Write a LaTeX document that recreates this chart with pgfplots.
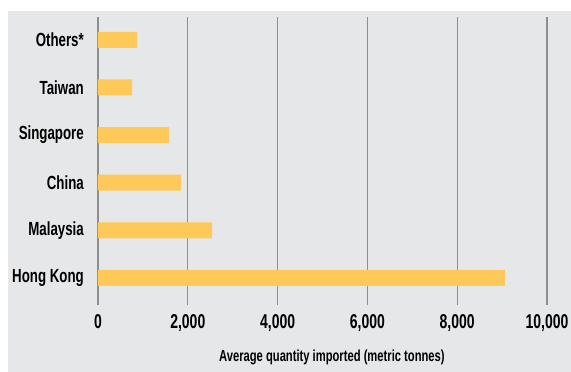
\documentclass[border=0pt]{standalone}
\usepackage{fontspec}
\setmainfont{Liberation Sans}[FakeStretch=0.7]
\usepackage{pgfplots}
\pgfplotsset{compat=1.18}
\definecolor{bg}{HTML}{E6E7E8}
\definecolor{bar}{HTML}{FFC95A}
\definecolor{grid}{HTML}{8E8E8E}
\begin{document}
\begin{tikzpicture}[x=1pt,y=1pt]
\path (0,0) rectangle (571,372);
\fill[bg] (8,0) rectangle (571,361);
\begin{axis}[
  at={(98pt,67pt)}, anchor=south west,
  scale only axis, width=449pt, height=288pt,
  xmin=0, xmax=10000, ymin=-0.57, ymax=5.48,
  xbar, bar width=16pt,
  axis line style={draw=none},
  major tick length=0pt,
  scaled ticks=false,
  xtick={0,2000,4000,6000,8000,10000},
  xticklabels={0,{2,000},{4,000},{6,000},{8,000},{10,000}},
  ytick={0,1,2,3,4,5},
  yticklabels={Hong Kong,Malaysia,China,Singapore,Taiwan,Others*},
  xmajorgrids=true, ymajorgrids=false,
  x grid style={grid, line width=1.3pt},
  xticklabel style={font=\fontsize{20}{20}\selectfont\bfseries, anchor=north, inner sep=0pt, yshift=-9pt},
  yticklabel style={font=\fontsize{19}{19}\selectfont\bfseries, anchor=east, inner sep=0pt, xshift=-14pt},
  xlabel={Average quantity imported (metric tonnes)},
  xlabel style={font=\fontsize{16}{16}\selectfont\bfseries, at={(axis description cs:0.521,0)}, anchor=center, yshift=-52pt},
  /pgf/number format/assume math mode=true,
]
\addplot[fill=bar, draw=none] coordinates {(9060,0) (2540,1) (1850,2) (1580,3) (760,4) (870,5)};
\end{axis}
\end{tikzpicture}
\end{document}
